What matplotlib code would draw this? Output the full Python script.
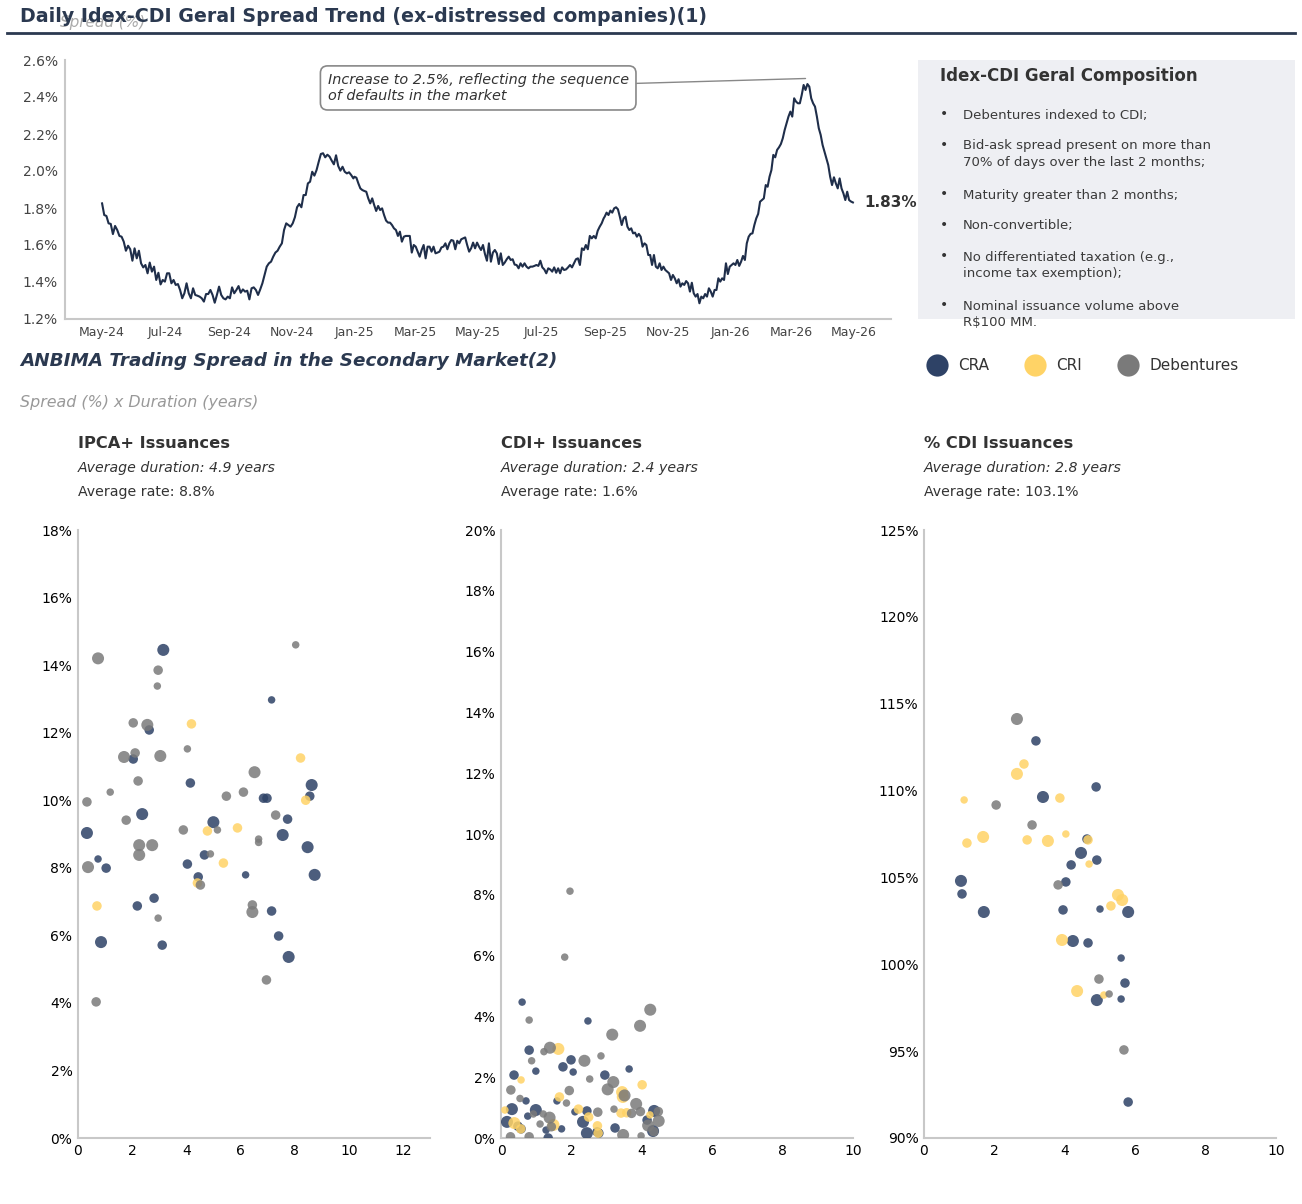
import numpy as np
import pandas as pd
import matplotlib
matplotlib.use("Agg")
import matplotlib.pyplot as plt
import matplotlib.dates as mdates
from matplotlib.lines import Line2D
from matplotlib.patches import Rectangle
from matplotlib.ticker import FuncFormatter, MultipleLocator


#:::: Data
#::::::::::::
# daily Idex-CDI spread (%), split in three date blocks
spread_2024 = [1.825, 1.762, 1.757, 1.717, 1.714, 1.659, 1.703, 1.681, 1.649, 1.645, 1.618, 1.569, 1.596, 1.577,
               1.515, 1.582, 1.528, 1.569, 1.501, 1.479, 1.492, 1.447, 1.505, 1.456, 1.483, 1.411, 1.450, 1.387,
               1.411, 1.402, 1.447, 1.447, 1.393, 1.411, 1.384, 1.389, 1.357, 1.312, 1.339, 1.393, 1.339, 1.312,
               1.366, 1.330, 1.326, 1.321, 1.312, 1.294, 1.335, 1.335, 1.357, 1.330, 1.288, 1.330, 1.375, 1.330,
               1.312, 1.306, 1.321, 1.312, 1.371, 1.339, 1.357, 1.378, 1.342, 1.360, 1.348, 1.353, 1.306, 1.366,
               1.371, 1.357, 1.330, 1.360, 1.393, 1.438, 1.483, 1.501, 1.510, 1.537, 1.559, 1.569, 1.591, 1.609,
               1.681, 1.717, 1.708, 1.699, 1.717, 1.750, 1.804, 1.822, 1.804, 1.870, 1.870, 1.933, 1.942, 1.996,
               1.975, 2.005, 2.050, 2.092, 2.096, 2.074, 2.088, 2.078, 2.056, 2.036, 2.085, 2.027, 2.002, 2.023,
               1.996, 1.987, 1.993, 1.978, 1.960]
spread_2025a = [1.969, 1.964, 1.933, 1.906, 1.897, 1.892, 1.888, 1.852, 1.825, 1.852, 1.816, 1.784, 1.811, 1.789,
                1.798, 1.762, 1.732, 1.721, 1.721, 1.708, 1.690, 1.681, 1.649, 1.672, 1.618, 1.645, 1.649, 1.649,
                1.649, 1.559, 1.600, 1.591, 1.564, 1.537, 1.573, 1.600, 1.528, 1.591, 1.591, 1.564, 1.591, 1.555,
                1.559, 1.564, 1.587, 1.591, 1.609, 1.577, 1.609, 1.627, 1.623, 1.577, 1.623, 1.609, 1.631, 1.636,
                1.641, 1.600, 1.564, 1.582, 1.613, 1.582, 1.613, 1.591, 1.573, 1.600, 1.551, 1.515, 1.609, 1.510,
                1.559, 1.573, 1.555, 1.497, 1.555, 1.492, 1.505, 1.523, 1.537, 1.519, 1.523, 1.494, 1.492, 1.474,
                1.501, 1.483, 1.501, 1.483, 1.474, 1.483, 1.483, 1.487, 1.492, 1.487, 1.515, 1.479, 1.468, 1.447,
                1.474, 1.468, 1.456, 1.479, 1.450, 1.474, 1.447, 1.479, 1.465, 1.468, 1.479, 1.492, 1.479, 1.501,
                1.523, 1.528, 1.492, 1.582, 1.573, 1.600, 1.577, 1.649, 1.636, 1.649, 1.636, 1.677, 1.699, 1.717,
                1.744]
spread_2025b = [1.753, 1.775, 1.762, 1.786, 1.775, 1.798, 1.804, 1.793, 1.753, 1.708, 1.744, 1.753, 1.699, 1.681,
                1.690, 1.663, 1.667, 1.645, 1.660, 1.645, 1.591, 1.609, 1.600, 1.546, 1.546, 1.492, 1.546, 1.483,
                1.474, 1.501, 1.465, 1.483, 1.465, 1.456, 1.447, 1.411, 1.438, 1.420, 1.393, 1.415, 1.375, 1.393,
                1.384, 1.405, 1.393, 1.348, 1.396, 1.339, 1.321, 1.335, 1.285, 1.321, 1.312, 1.335, 1.321, 1.366,
                1.348, 1.321, 1.357, 1.357, 1.420, 1.402, 1.420, 1.411, 1.501, 1.443, 1.483, 1.492, 1.501, 1.492,
                1.519, 1.487, 1.510, 1.541, 1.519, 1.609, 1.645, 1.660, 1.663, 1.708, 1.744, 1.768, 1.834, 1.843,
                1.852, 1.924, 1.915, 1.969, 2.005, 2.087, 2.074, 2.114, 2.128, 2.146, 2.177, 2.222, 2.258, 2.294,
                2.321, 2.294, 2.393, 2.375, 2.366, 2.366, 2.411, 2.465, 2.438, 2.470, 2.456, 2.393, 2.366, 2.348,
                2.294, 2.231, 2.195, 2.141, 2.105, 2.068, 2.032, 1.969, 1.924, 1.966, 1.933, 1.906, 1.960, 1.906,
                1.879, 1.843, 1.888, 1.843, 1.835, 1.830]
block_dates = [("2024-05-01", "2024-12-31"), ("2025-01-01", "2025-08-31"), ("2025-09-01", "2026-04-30")]

peak_date, peak_value = "2026-03-15", 2.50
note_text = "Increase to 2.5%, reflecting the sequence\nof defaults in the market"

composition = [
    "Debentures indexed to CDI;",
    "Bid-ask spread present on more than\n70% of days over the last 2 months;",
    "Maturity greater than 2 months;",
    "Non-convertible;",
    "No differentiated taxation (e.g.,\nincome tax exemption);",
    "Nominal issuance volume above\nR$100 MM.",
]

# (duration in years, spread, size class 1..3)
ipca_cra = [(3.15, 14.45, 3), (7.15, 12.97, 1), (2.63, 12.08, 2), (2.04, 11.22, 2), (4.15, 10.51, 2),
            (8.63, 10.45, 3), (8.56, 10.12, 2), (6.85, 10.06, 2), (6.98, 10.06, 2), (2.37, 9.59, 3),
            (7.74, 9.44, 2), (5.00, 9.35, 3), (0.33, 9.03, 3), (7.56, 8.97, 3), (8.48, 8.61, 3),
            (4.67, 8.38, 2), (0.74, 8.26, 1), (4.04, 8.11, 2), (1.04, 7.99, 2), (6.19, 7.79, 1),
            (8.74, 7.79, 3), (4.44, 7.73, 2), (2.81, 7.10, 2), (2.19, 6.87, 2), (7.15, 6.72, 2),
            (7.41, 5.98, 2), (0.85, 5.80, 3), (3.11, 5.71, 2), (7.78, 5.36, 3)]
ipca_cri = [(4.19, 12.26, 2), (8.22, 11.25, 2), (8.41, 10.00, 2), (5.89, 9.18, 2), (4.78, 9.09, 2),
            (5.37, 8.14, 2), (4.41, 7.55, 2), (0.70, 6.87, 2)]
ipca_deb = [(0.74, 14.20, 3), (8.04, 14.60, 1), (2.96, 13.85, 2), (2.93, 13.38, 1), (2.04, 12.29, 2),
            (2.56, 12.23, 3), (4.04, 11.52, 1), (1.70, 11.28, 3), (2.11, 11.40, 2), (3.04, 11.31, 3),
            (6.52, 10.83, 3), (2.22, 10.57, 2), (1.19, 10.24, 1), (6.11, 10.24, 2), (5.48, 10.12, 2),
            (0.33, 9.95, 2), (7.30, 9.56, 2), (1.78, 9.41, 2), (5.15, 9.12, 1), (3.89, 9.12, 2),
            (6.67, 8.85, 1), (6.67, 8.75, 1), (2.26, 8.67, 3), (2.74, 8.67, 3), (2.26, 8.38, 3),
            (4.89, 8.41, 1), (0.37, 8.02, 3), (4.52, 7.49, 2), (6.44, 6.90, 2), (6.44, 6.69, 3),
            (2.96, 6.51, 1), (6.96, 4.68, 2), (0.67, 4.03, 2)]

cdi_cra = [(0.60, 4.47, 1), (2.47, 3.85, 1), (0.80, 2.89, 2), (1.99, 2.57, 2), (0.99, 2.20, 1),
           (1.76, 2.34, 2), (2.05, 2.17, 1), (3.64, 2.27, 1), (0.37, 2.07, 2), (2.95, 2.07, 2),
           (1.59, 1.22, 1), (0.71, 1.22, 1), (0.31, 0.95, 3), (0.99, 0.92, 3), (2.10, 0.86, 1),
           (2.44, 0.89, 2), (4.35, 0.89, 3), (0.17, 0.53, 3), (0.48, 0.39, 2), (2.33, 0.53, 3),
           (4.15, 0.59, 2), (0.57, 0.30, 2), (1.28, 0.26, 1), (2.44, 0.16, 3), (2.73, 0.20, 2),
           (3.24, 0.33, 2), (4.32, 0.23, 3), (1.34, 0.00, 2), (2.78, 0.16, 2), (0.76, 0.72, 1),
           (1.72, 0.30, 1)]
cdi_cri = [(1.63, 2.93, 3), (0.57, 1.91, 1), (4.01, 1.75, 2), (3.44, 1.51, 3), (3.46, 1.35, 3),
           (1.66, 1.35, 2), (0.11, 0.92, 1), (2.20, 0.95, 2), (2.49, 0.69, 2), (3.41, 0.82, 2),
           (3.57, 0.83, 2), (4.23, 0.76, 1), (0.38, 0.49, 3), (0.56, 0.30, 2), (1.49, 0.43, 3),
           (2.74, 0.40, 2), (2.76, 0.16, 2)]
cdi_deb = [(1.96, 8.12, 1), (1.81, 5.95, 1), (4.24, 4.22, 3), (0.80, 3.88, 1), (3.95, 3.69, 3),
           (3.16, 3.40, 3), (1.39, 2.97, 3), (1.22, 2.84, 1), (2.84, 2.70, 1), (0.87, 2.54, 1),
           (2.37, 2.54, 3), (2.52, 1.94, 1), (3.19, 1.84, 3), (3.03, 1.60, 3), (0.28, 1.58, 2),
           (1.94, 1.56, 2), (3.51, 1.40, 3), (0.54, 1.30, 1), (1.86, 1.15, 1), (3.84, 1.12, 3),
           (3.21, 0.95, 1), (3.96, 0.87, 2), (2.75, 0.85, 2), (3.71, 0.81, 2), (4.47, 0.87, 2),
           (0.92, 0.79, 1), (1.20, 0.79, 1), (1.38, 0.67, 3), (1.11, 0.46, 1), (4.18, 0.41, 3),
           (4.48, 0.56, 3), (4.34, 0.21, 2), (3.47, 0.10, 3), (0.27, 0.04, 2), (0.80, 0.04, 2),
           (3.98, 0.07, 1), (1.43, 0.37, 2)]

pcdi_cra = [(3.18, 112.86, 2), (4.89, 110.21, 2), (3.38, 109.63, 3), (4.63, 107.21, 2), (4.46, 106.41, 3),
            (4.18, 105.72, 2), (4.91, 106.00, 2), (1.05, 104.80, 3), (1.08, 104.05, 2), (4.03, 104.74, 2),
            (5.00, 103.18, 1), (3.95, 103.13, 2), (1.70, 103.01, 3), (5.80, 103.01, 3), (4.23, 101.34, 3),
            (4.66, 101.23, 2), (5.60, 100.36, 1), (5.71, 98.92, 2), (4.91, 97.94, 3), (5.60, 98.00, 1),
            (5.80, 92.07, 2)]
pcdi_cri = [(2.84, 111.53, 2), (2.64, 110.96, 3), (1.14, 109.46, 1), (3.86, 109.57, 2), (4.03, 107.50, 1),
            (1.22, 106.98, 2), (1.68, 107.33, 3), (2.93, 107.16, 2), (3.52, 107.10, 3), (4.66, 107.16, 2),
            (4.69, 105.77, 1), (5.51, 103.99, 3), (5.63, 103.70, 3), (5.31, 103.36, 2), (3.92, 101.40, 3),
            (4.35, 98.46, 3), (5.11, 98.23, 1)]
pcdi_deb = [(2.64, 114.12, 3), (2.05, 109.17, 2), (3.07, 108.02, 2), (3.81, 104.57, 2), (4.97, 99.15, 2),
            (5.26, 98.29, 1), (5.68, 95.07, 2)]

panel_titles = ["IPCA+ Issuances", "CDI+ Issuances", "% CDI Issuances"]
avg_duration = [4.9, 2.4, 2.8]
avg_rate = ["8.8%", "1.6%", "103.1%"]
series_names = ["CRA", "CRI", "Debentures"]


#:::: Styling
#::::::::::::
W, H = 1302, 1204
NAVY = "#2b3950"
LINE = "#1f2e4a"
DARK = "#333333"
GRID = "#c8c8c8"
colors = {"CRA": "#2e4266", "CRI": "#ffd366", "Debentures": "#7a7a7a"}
size_px = {1: 29, 2: 47, 3: 75}


def fx(px):
    return px / W


def fy(py):
    return 1 - py / H


fig = plt.figure(figsize=(W / 100, H / 100), dpi=100)

# header
fig.text(fx(60), fy(22), "Spread (%)", fontsize=11, style="italic", color="#aaaaaa", va="center")
fig.text(fx(20), fy(16), "Daily Idex-CDI Geral Spread Trend (ex-distressed companies)(1)",
         fontsize=13.7, fontweight="bold", color=NAVY, va="center")
fig.add_artist(Line2D([fx(7), fx(1295)], [fy(33), fy(33)], color=NAVY, lw=2))

#:::: Line chart
#::::::::::::
dates = []
values = []
for (start, end), block in zip(block_dates, [spread_2024, spread_2025a, spread_2025b]):
    dates.extend(pd.date_range(start, end, periods=len(block)))
    values.extend(block)

ax = fig.add_axes([fx(65), fy(319), (891 - 65) / W, (319 - 60) / H])
ax.plot(dates, values, color=LINE, lw=1.5)
ax.set_ylim(1.2, 2.6)
ax.set_xlim(pd.Timestamp("2024-03-26"), pd.Timestamp("2026-06-06"))
ax.yaxis.set_major_locator(MultipleLocator(0.2))
ax.yaxis.set_major_formatter(FuncFormatter(lambda v, p: f"{v:.1f}%"))
ax.xaxis.set_major_locator(mdates.MonthLocator(bymonth=[1, 3, 5, 7, 9, 11]))
ax.xaxis.set_major_formatter(mdates.DateFormatter("%b-%y"))
ax.tick_params(axis="y", length=0, labelsize=10, colors="#444444", pad=5)
ax.tick_params(axis="x", length=0, labelsize=9, colors="#444444", pad=5)
for side in ["top", "right"]:
    ax.spines[side].set_visible(False)
for side in ["left", "bottom"]:
    ax.spines[side].set_color(GRID)
    ax.spines[side].set_linewidth(1.5)

ax.annotate(note_text, xy=(pd.Timestamp(peak_date), peak_value),
            xytext=(pd.Timestamp("2024-12-06"), 2.449), fontsize=10.4, style="italic", color=DARK,
            ha="left", va="center", linespacing=1.15,
            bbox=dict(boxstyle="round,pad=0.5", fc="white", ec="#888888", lw=1.2),
            arrowprops=dict(arrowstyle="-", color="#888888", lw=1, shrinkA=0, shrinkB=0))
ax.annotate(f"{values[-1]:.2f}%", xy=(dates[-1], values[-1]), xytext=(8, 0),
            textcoords="offset points", fontsize=11, fontweight="bold", color=DARK, va="center")

#:::: Composition box
#::::::::::::
fig.add_artist(Rectangle((fx(918), fy(319)), (1295 - 918) / W, (319 - 60) / H,
                         transform=fig.transFigure, fc="#eeeff3", ec="none", zorder=0))
fig.text(fx(940), fy(76), "Idex-CDI Geral Composition", fontsize=12, fontweight="bold",
         color=DARK, va="center")
bullet_y = [114, 145, 194, 225, 256, 305]
for item, yy in zip(composition, bullet_y):
    # bullet centred on the first line of its item
    fig.text(fx(940), fy(yy), "\u2022", fontsize=10, color=DARK, va="center")
    fig.text(fx(963), fy(yy - 5.5), item, fontsize=9.5, color="#3a3a3a", va="top",
             linespacing=1.38)

# legend
handles = [Line2D([], [], marker="o", ls="", markersize=16, markeredgewidth=0,
                  color=colors[n]) for n in series_names]
fig.legend(handles, series_names, ncol=3, loc="center left", frameon=False,
           bbox_to_anchor=(fx(914), fy(366)), fontsize=11, handletextpad=0.4,
           columnspacing=2.0, borderpad=0, labelcolor=DARK)

#:::: Scatter section
#::::::::::::
fig.text(fx(20), fy(361), "ANBIMA Trading Spread in the Secondary Market(2)", fontsize=13.2,
         fontweight="bold", style="italic", color=NAVY, va="center")
fig.text(fx(20), fy(402), "Spread (%) x Duration (years)", fontsize=11.4, style="italic",
         color="#999999", va="center")

panel_data = [(ipca_cra, ipca_cri, ipca_deb), (cdi_cra, cdi_cri, cdi_deb), (pcdi_cra, pcdi_cri, pcdi_deb)]
panel_left = [78, 501, 924]
panel_ylim = [(0, 18), (0, 20), (90, 125)]
panel_ystep = [2, 2, 5]
panel_xlim = [(0, 13), (0, 10), (0, 10)]

for i, left in enumerate(panel_left):
    fig.text(fx(left), fy(443), panel_titles[i], fontsize=11.7, fontweight="bold", color=DARK, va="center")
    fig.text(fx(left), fy(468), f"Average duration: {avg_duration[i]} years", fontsize=10.2,
             style="italic", color=DARK, va="center")
    fig.text(fx(left), fy(492), f"Average rate: {avg_rate[i]}", fontsize=10.2, color=DARK, va="center")

    sax = fig.add_axes([fx(left), fy(1138), 352 / W, 608 / H])
    for name, pts in zip(series_names, panel_data[i]):
        dur, spr, cls = zip(*pts)
        sax.scatter(dur, spr, s=[size_px[c] for c in cls], color=colors[name],
                    alpha=0.85, linewidths=0, zorder=3)
    sax.set_xlim(*panel_xlim[i])
    sax.set_ylim(*panel_ylim[i])
    sax.xaxis.set_major_locator(MultipleLocator(2))
    sax.yaxis.set_major_locator(MultipleLocator(panel_ystep[i]))
    sax.yaxis.set_major_formatter(FuncFormatter(lambda v, p: f"{v:.0f}%"))
    sax.tick_params(length=0, labelsize=10, colors="black", pad=4)
    for side in ["top", "right"]:
        sax.spines[side].set_visible(False)
    for side in ["left", "bottom"]:
        sax.spines[side].set_color(GRID)
        sax.spines[side].set_linewidth(1.5)

fig.savefig("out.png", dpi=100)
